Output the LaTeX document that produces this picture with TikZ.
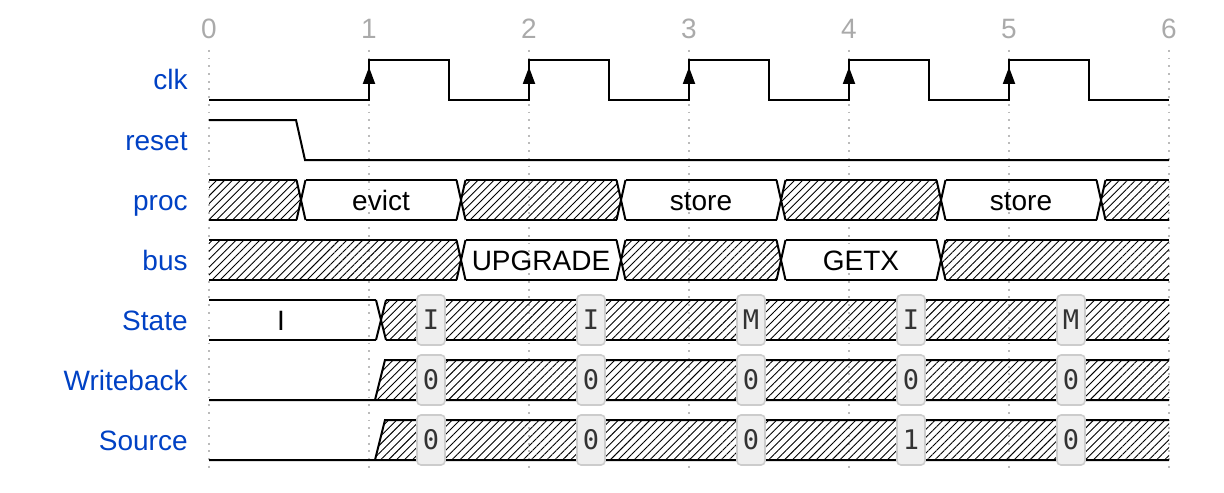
\documentclass[tikz,border=0pt]{standalone}
\usepackage{fontspec}
\setmainfont{Liberation Sans}
\newfontfamily\tagfont{DejaVu Sans Mono}
\usepackage{tikz}
\usetikzlibrary{arrows.meta,calc,patterns.meta}

\definecolor{namecol}{HTML}{0041C4}
\definecolor{tickcol}{HTML}{AAAAAA}
\definecolor{dotcol}{HTML}{BBBBBB}
\definecolor{tagfill}{HTML}{EEEEEE}
\definecolor{tagline}{HTML}{CCCCCC}
\definecolor{tagtext}{HTML}{333333}

\tikzset{
  wave/.style={line width=1pt,black},
  hatch/.style={pattern={Lines[angle=45,distance=2.8pt,line width=0.45pt]}},
  gridline/.style={dotcol,line width=0.9pt,dash pattern=on 0.9pt off 2.95pt},
  ticklabel/.style={anchor=base,text=tickcol,font=\fontsize{14}{16}\selectfont,inner sep=0pt},
  siglabel/.style={anchor=base east,text=namecol,font=\fontsize{14}{16}\selectfont,inner sep=0pt},
  datatext/.style={anchor=base,font=\fontsize{14}{16}\selectfont,inner sep=0pt},
  tag/.style={draw=tagline,fill=tagfill,line width=0.8pt,rounded corners=2pt,
    minimum width=14pt,minimum height=25pt,inner sep=0pt,text=tagtext,
    font=\tagfont\fontsize{13.5}{16}\selectfont}
}

\begin{document}
\begin{tikzpicture}[x=0.5pt,y=-0.5pt]
    \useasboundingbox (0,0) rectangle (1224,492);

    % Time grid
    \foreach \i in {0,...,6}
    {
        \draw[gridline] (209+160*\i,50) -- (209+160*\i,468);
        \node[ticklabel] (tick\i) at (209+160*\i,39) {\i};
    }

    % Signal names
    \foreach \n [count=\k] in {clk,reset,proc,bus,State,Writeback,Source}
        \node[siglabel] (lbl\n) at (188,30+60*\k) {\n};

    % clk
    \draw[wave] (209,100) -- (369,100)
        \foreach \i in {1,...,5} { -- (209+160*\i,60) -- (289+160*\i,60) -- (289+160*\i,100) -- (369+160*\i,100) };
    \foreach \i in {1,...,5}
        \draw[wave,-{Triangle[length=8.5pt,width=6pt]}] (209+160*\i,86) -- (209+160*\i,67);

    % reset
    \draw[wave] (209,120) -- (296,120) -- (305,160) -- (1169,160);

    % proc
    \foreach \a/\b/\hl/\hr in {209/301/0/4.5,461/621/4.5/4.5,781/941/4.5/4.5,1101/1169/4.5/0}
        \fill[hatch] (\a+\hl,180) -- (\b-\hr,180) -- (\b,200) -- (\b-\hr,220) -- (\a+\hl,220) -- (\a,200) -- cycle;
    \foreach \a/\b/\hl/\hr in {209/301/0/4.5,301/461/4.5/4.5,461/621/4.5/4.5,621/781/4.5/4.5,781/941/4.5/4.5,941/1101/4.5/4.5,1101/1169/4.5/0}
        \draw[wave] (\a+\hl,180) -- (\b-\hr,180) (\a+\hl,220) -- (\b-\hr,220);
    \foreach \c in {301,461,...,1101}
        \draw[wave] (\c-4.5,180) -- (\c+4.5,220) (\c-4.5,220) -- (\c+4.5,180);
    \node[datatext] (evict) at (381,210) {evict};
    \node[datatext] (store1) at (701,210) {store};
    \node[datatext] (store2) at (1021,210) {store};

    % bus
    \foreach \a/\b/\hl/\hr in {209/461/0/4.5,621/781/4.5/4.5,941/1169/4.5/0}
        \fill[hatch] (\a+\hl,240) -- (\b-\hr,240) -- (\b,260) -- (\b-\hr,280) -- (\a+\hl,280) -- (\a,260) -- cycle;
    \foreach \a/\b/\hl/\hr in {209/461/0/4.5,461/621/4.5/4.5,621/781/4.5/4.5,781/941/4.5/4.5,941/1169/4.5/0}
        \draw[wave] (\a+\hl,240) -- (\b-\hr,240) (\a+\hl,280) -- (\b-\hr,280);
    \foreach \c in {461,621,...,941}
        \draw[wave] (\c-4.5,240) -- (\c+4.5,280) (\c-4.5,280) -- (\c+4.5,240);
    \node[datatext] (upgrade) at (541,270) {UPGRADE};
    \node[datatext] (getx) at (861,270) {GETX};

    % State
    \fill[hatch] (386,300) -- (1169,300) -- (1169,340) -- (386,340) -- (381,320) -- cycle;
    \draw[wave] (209,300) -- (376,300) (209,340) -- (376,340)
        (386,300) -- (1169,300) (386,340) -- (1169,340);
    \draw[wave] (376,300) -- (386,340) (376,340) -- (386,300);
    \node[datatext] (stI) at (281,330) {I};

    % Writeback and Source
    \foreach \yb in {400,460}
    {
        \fill[hatch] (375,\yb) -- (385,\yb-40) -- (1169,\yb-40) -- (1169,\yb) -- cycle;
        \draw[wave] (209,\yb) -- (1169,\yb) (375,\yb) -- (385,\yb-40) -- (1169,\yb-40);
    }

    % Value tags
    \foreach \v [count=\k] in {I,I,M,I,M}
        \node[tag] (state\k) at (271+160*\k,320) {\v};
    \foreach \v [count=\k] in {0,0,0,0,0}
        \node[tag] (wb\k) at (271+160*\k,380) {\v};
    \foreach \v [count=\k] in {0,0,0,1,0}
        \node[tag] (src\k) at (271+160*\k,440) {\v};
\end{tikzpicture}
\end{document}
